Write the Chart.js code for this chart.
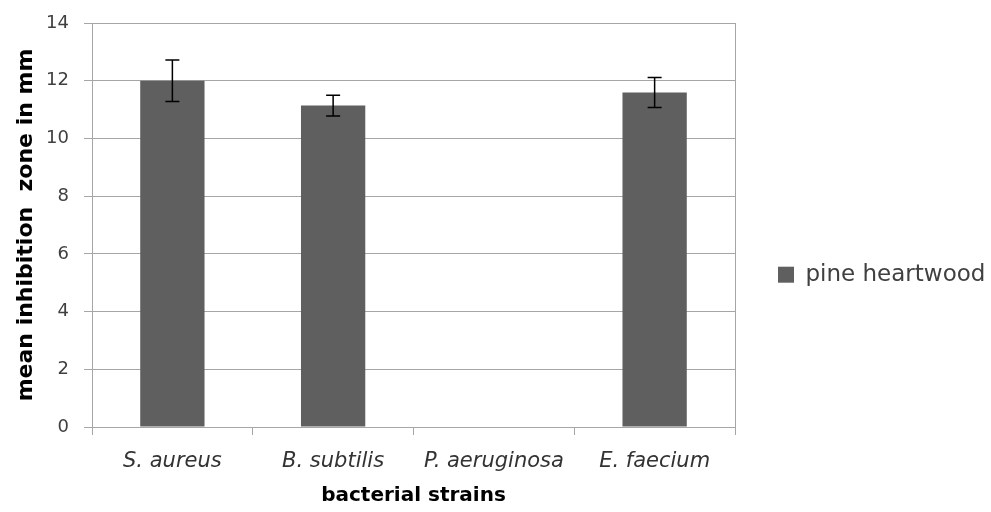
<!DOCTYPE html>
<html>
<head>
<meta charset="utf-8">
<script src="https://cdn.jsdelivr.net/npm/chart.js"></script>
<style>
  html, body { margin: 0; padding: 0; background: #fff; }
  #wrap { width: 991px; height: 512px; }
</style>
</head>
<body>
<div id="wrap"><canvas id="myChart"></canvas></div>
<script>
const strains = ["S. aureus", "B. subtilis", "P. aeruginosa", "E. faecium"];
const heartwood = [12.0, 11.14, 0, 11.59];
const heartwoodErr = [0.72, 0.36, 0, 0.52];

const font = "'DejaVu Sans', sans-serif";

// error bars drawn through the scales
const errorBars = {
  id: "errorBars",
  afterDatasetsDraw(chart) {
    const ctx = chart.ctx;
    const x = chart.scales.x;
    const y = chart.scales.y;
    ctx.save();
    ctx.strokeStyle = "#000";
    ctx.lineWidth = 1.5;
    heartwood.forEach((v, i) => {
      if (!heartwoodErr[i]) return;
      const px = x.getPixelForValue(i);
      const top = y.getPixelForValue(v + heartwoodErr[i]);
      const bot = y.getPixelForValue(v - heartwoodErr[i]);
      ctx.beginPath();
      ctx.moveTo(px, top); ctx.lineTo(px, bot);
      ctx.moveTo(px - 7, top); ctx.lineTo(px + 7, top);
      ctx.moveTo(px - 7, bot); ctx.lineTo(px + 7, bot);
      ctx.stroke();
    });
    ctx.restore();
  }
};

// right edge of the plot area
const plotBorder = {
  id: "plotBorder",
  beforeDatasetsDraw(chart) {
    const a = chart.chartArea;
    const ctx = chart.ctx;
    ctx.save();
    ctx.strokeStyle = "#a6a6a6";
    ctx.lineWidth = 1;
    ctx.beginPath();
    ctx.moveTo(Math.round(a.right) + 0.5, a.top);
    ctx.lineTo(Math.round(a.right) + 0.5, a.bottom);
    ctx.stroke();
    ctx.restore();
  }
};

new Chart("myChart", {
  type: "bar",
  data: {
    labels: strains,
    datasets: [{
      label: "pine heartwood",
      data: heartwood,
      backgroundColor: "#5f5f5f",
      barPercentage: 0.4,
      categoryPercentage: 1.0
    }]
  },
  options: {
    responsive: true,
    maintainAspectRatio: false,
    animation: false,
    layout: { padding: { left: 0, top: 23, right: 0, bottom: 0 } },
    plugins: {
      tooltip: { enabled: false },
      legend: {
        position: "right",
        maxWidth: 256,
        title: { display: true, text: "", padding: 0, font: { size: 12 } },
        labels: {
          boxWidth: 16,
          boxHeight: 16,
          padding: 43,
          color: "#404040",
          font: { family: font, size: 23 }
        }
      }
    },
    scales: {
      x: {
        afterFit: s => { s.height = 85; },
        grid: {
          offset: true,
          drawOnChartArea: false,
          tickLength: 8,
          color: "#a6a6a6",
          tickColor: "#a6a6a6"
        },
        border: { color: "#a6a6a6" },
        ticks: {
          color: "#333",
          padding: 14,
          maxRotation: 0,
          font: { family: font, size: 21, style: "italic" }
        },
        title: {
          display: true,
          text: "bacterial strains",
          color: "#000",
          padding: { top: 0, bottom: 4 },
          font: { family: font, size: 20, weight: "bold" }
        }
      },
      y: {
        min: 0,
        max: 14,
        afterFit: s => { s.width = 92; s.paddingTop = 0; s.paddingBottom = 0; },
        grid: {
          color: "#a6a6a6",
          tickColor: "#a6a6a6",
          tickLength: 8
        },
        border: { color: "#a6a6a6" },
        ticks: {
          stepSize: 2,
          color: "#404040",
          padding: 15,
          font: { family: font, size: 18 }
        },
        title: {
          display: true,
          text: "mean inhibition  zone in mm",
          color: "#000",
          padding: { top: 13, bottom: 0 },
          font: { family: font, size: 22, weight: "bold" }
        }
      }
    }
  },
  plugins: [errorBars, plotBorder]
});
</script>
</body>
</html>
